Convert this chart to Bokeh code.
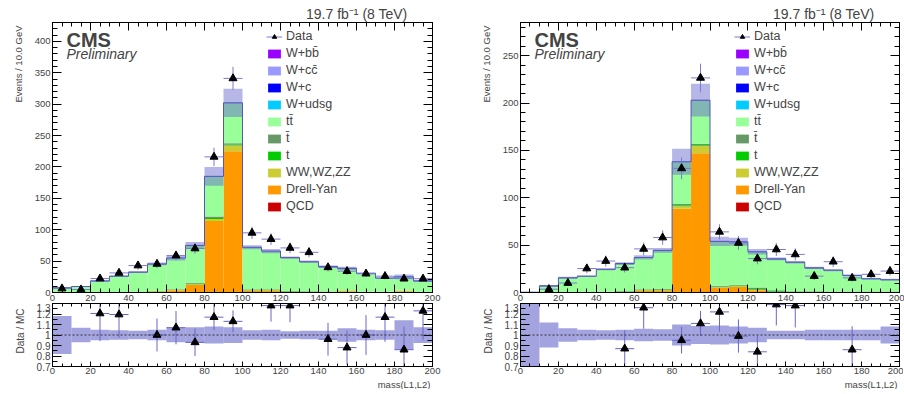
import numpy as np
from bokeh.plotting import figure
from bokeh.models import (ColumnDataSource, Range1d, LinearAxis, SingleIntervalTicker,
                          Label, Legend, LegendItem, Span, CustomJSTickFormatter, Title,
                          CustomLabelingPolicy)
from bokeh.layouts import row, column
from bokeh.embed import file_html
from bokeh.resources import INLINE

FONT = "Liberation Sans"

# ---------------- data ----------------
bin_low = [0, 10, 20, 30, 40, 50, 60, 70, 80, 90, 100, 110, 120, 130, 140, 150, 160, 170, 180, 190]
BIN_W = 10
x_ticks_step = 20

comp_keys = ["qcd", "dy", "vv", "t", "tbar", "ttbar", "wudsg", "wc", "wcc", "wbb"]
comp_labels = {"wbb": "W+bb\u0304", "wcc": "W+cc\u0304", "wc": "W+c", "wudsg": "W+udsg",
               "ttbar": "tt\u0304", "tbar": "t\u0304", "t": "t", "vv": "WW,WZ,ZZ",
               "dy": "Drell-Yan", "qcd": "QCD"}
comp_colors = {"wbb": "#9900ff", "wcc": "#9999ff", "wc": "#0000ff", "wudsg": "#00ccff",
               "ttbar": "#99ff99", "tbar": "#669966", "t": "#00cc00", "vv": "#cccc33",
               "dy": "#ff9900", "qcd": "#cc0000"}
legend_order = ["wbb", "wcc", "wc", "wudsg", "ttbar", "tbar", "t", "vv", "dy", "qcd"]

# left panel
left_data = [6.3, 4.7, 22.2, 31.2, 42.9, 45.5, 58.8, 70, 216, 341, 95, 85, 71, 64, 40, 34, 30, 26, 22, 22]
left_qcd = [0] * 20
left_dy = [0, 0, 0, 0, 0, 1.5, 3.5, 12.5, 114, 225, 3, 3, 1, 0.5, 0.5, 2, 0.3, 0.3, 2, 0.5]
left_vv = [0, 0, 0, 0, 0.3, 0.3, 0.5, 0.5, 3, 9, 0.5, 0.5, 0.3, 0.3, 0.3, 0.3, 0.2, 0.2, 0.2, 0.2]
left_t = [0, 0, 0.2, 0.3, 0.3, 0.5, 0.5, 0.8, 1.5, 1.5, 0.8, 0.8, 0.5, 0.5, 0.4, 0.4, 0.3, 0.3, 0.3, 0.3]
left_tbar = [0, 0, 0.2, 0.3, 0.3, 0.5, 0.8, 1.2, 2.5, 2, 1, 1, 0.7, 0.5, 0.5, 0.5, 0.4, 0.3, 0.3, 0.3]
left_ttbar = [6.9, 8.9, 17.5, 24.8, 31.0, 42.1, 49.1, 59.4, 63.4, 63.9, 66.1, 60.1, 52.4, 46.6, 39.2, 34.7, 28.7, 21.3, 21.6, 16.6]
left_wudsg = [0.2] * 20
left_wc = [0.1] * 20
left_wcc = [0.2] * 20
left_wbb = [0.1] * 20
left_rel = [0.18, 0.07, 0.05, 0.045, 0.04, 0.05, 0.07, 0.075, 0.08, 0.075, 0.045, 0.05, 0.035, 0.04, 0.04, 0.065, 0.05, 0.045, 0.14, 0.075]
left_ratio = [np.nan, np.nan, 1.205, 1.195, np.nan, 1.0, 1.07, 0.93, 1.17, 1.13, np.nan, 1.28, 1.28, np.nan, 0.96, 0.88, 1.0, 1.17, 0.86, 1.23]

# right panel
right_data = [np.nan, 3.5, 10, 25.3, 33.2, 26.2, 46, 58, 131, 226.5, 64, 52.3, 35.8, 45.4, 40.2, 17.3, 32.5, 15.4, 19.2, 22.6]
right_qcd = [0] * 20
right_dy = [0, 0, 0, 0, 0, 0.5, 2, 2, 88.5, 147, 5, 6, 2.5, 0.5, 0.3, 0.3, 0.3, 0.3, 0.3, 0.3]
right_vv = [0, 0, 0, 0.2, 0.2, 0.3, 0.3, 0.4, 2.5, 8, 0.5, 0.5, 0.3, 0.3, 0.2, 0.2, 0.2, 0.2, 0.2, 0.2]
right_t = [0, 0.1, 0.2, 0.2, 0.3, 0.3, 0.5, 0.6, 1, 0.8, 0.7, 0.8, 1, 0.7, 0.4, 0.3, 0.3, 0.3, 0.2, 0.2]
right_tbar = [0, 0.1, 0.2, 0.2, 0.3, 0.4, 0.6, 0.7, 1.5, 1.2, 0.8, 1, 1.5, 0.8, 0.5, 0.4, 0.3, 0.3, 0.3, 0.3]
right_ttbar = [0.3, 6.4, 14.7, 16.2, 23.3, 28.6, 33.2, 40.4, 44.1, 45.6, 46.6, 44.8, 37.3, 32.8, 30.2, 24.4, 22.0, 16.5, 13.1, 12.1]
right_wudsg = [0] + [0.1] * 19
right_wc = [0] + [0.1] * 19
right_wcc = [0] + [0.1] * 19
right_wbb = [0] + [0.1] * 19
right_rel = [1.0, 0.12, 0.065, 0.05, 0.045, 0.05, 0.06, 0.055, 0.10, 0.085, 0.09, 0.08, 0.07, 0.04, 0.04, 0.05, 0.05, 0.05, 0.05, 0.08]
right_ratio = [np.nan, np.nan, np.nan, np.nan, np.nan, 0.87, 1.26, np.nan, 0.95, 1.11, 1.22, 0.99, 0.84, 1.29, 1.28, np.nan, np.nan, 0.86, np.nan, np.nan]

left_comps = dict(qcd=left_qcd, dy=left_dy, vv=left_vv, t=left_t, tbar=left_tbar, ttbar=left_ttbar,
                  wudsg=left_wudsg, wc=left_wc, wcc=left_wcc, wbb=left_wbb)
right_comps = dict(qcd=right_qcd, dy=right_dy, vv=right_vv, t=right_t, tbar=right_tbar, ttbar=right_ttbar,
                   wudsg=right_wudsg, wc=right_wc, wcc=right_wcc, wbb=right_wbb)

X_MAX = 200
FH = 270      # main frame height
RH = 63       # ratio frame height
BAND = "#6666cc"
ERRC = "#7a7ad6"

HIDE_CODE = """
try { indices.clear(); } catch (e) {
  try { for (let i = 0; i < indices.size; i++) { indices.unset(i); } } catch (e2) {}
}
return indices;
"""


def style_axis(ax, tick_in, minor_in, size, labels=True):
    ax.major_tick_in = tick_in
    ax.major_tick_out = 0
    ax.minor_tick_in = minor_in
    ax.minor_tick_out = 0
    ax.axis_line_color = "black"
    ax.major_tick_line_color = "black"
    ax.minor_tick_line_color = "black"
    ax.major_label_text_font = FONT
    if labels:
        ax.major_label_text_font_size = size
        ax.major_label_standoff = 2
    else:
        ax.major_label_text_font_size = "0px"
        ax.major_label_standoff = 0
        ax.major_label_policy = CustomLabelingPolicy(code=HIDE_CODE)


def base_fig(fw, fh, bl, br, bt, bb, yr):
    p = figure(frame_width=fw, frame_height=fh, min_border_left=bl, min_border_right=br,
               min_border_top=bt, min_border_bottom=bb,
               x_range=Range1d(0, X_MAX), y_range=yr,
               output_backend="svg", toolbar_location=None, tools="")
    p.xgrid.visible = False
    p.ygrid.visible = False
    p.outline_line_color = "black"
    p.outline_line_alpha = 1
    p.background_fill_color = "white"
    p.border_fill_color = "white"
    return p


def side_title(p, text, size, standoff, offset):
    t = Title(text=text, align="right", offset=offset, standoff=standoff,
              text_font=FONT, text_font_size=size, text_font_style="normal")
    p.add_layout(t, "left")


def make_main(data, comps, rel, ymax, fw, bl, br):
    lo = np.array(bin_low, dtype=float)
    xc = lo + BIN_W / 2
    p = base_fig(fw, FH, bl, br, 22, 0, Range1d(0, ymax))
    src = ColumnDataSource(dict(x=xc, **{k: np.array(v, dtype=float) for k, v in comps.items()}))
    rs = p.vbar_stack(comp_keys, x="x", width=BIN_W, source=src,
                      fill_color=[comp_colors[k] for k in comp_keys], line_color=None)
    rmap = dict(zip(comp_keys, rs))
    total = np.sum([np.array(comps[k], dtype=float) for k in comp_keys], axis=0)
    relv = np.array(rel)
    p.quad(left=lo, right=lo + BIN_W, bottom=total * (1 - relv), top=total * (1 + relv),
           fill_color=BAND, fill_alpha=0.48, line_color=None)
    p.step(np.append(lo, X_MAX), np.append(total, total[-1]), mode="after",
           line_color="#5555bb", line_width=1)
    d = np.array(data, dtype=float)
    e = np.sqrt(d)
    xr = p.segment(x0=xc - BIN_W / 2, y0=d, x1=xc + BIN_W / 2, y1=d, line_color=ERRC, line_width=1)
    p.segment(x0=xc, y0=d - e, x1=xc, y1=d + e, line_color=ERRC, line_width=1)
    sc = p.scatter(xc, d, marker="triangle", size=8, color="black")

    p.xaxis.ticker = SingleIntervalTicker(interval=x_ticks_step, num_minor_ticks=4)
    p.yaxis.ticker = SingleIntervalTicker(interval=50, num_minor_ticks=5)
    style_axis(p.xaxis[0], 8, 4, "9.5px")
    style_axis(p.yaxis[0], 9, 5, "9.5px")
    top = LinearAxis(ticker=SingleIntervalTicker(interval=x_ticks_step, num_minor_ticks=4))
    style_axis(top, 8, 4, "0px", labels=False)
    p.add_layout(top, "above")
    rt = LinearAxis(ticker=SingleIntervalTicker(interval=50, num_minor_ticks=5))
    style_axis(rt, 9, 5, "0px", labels=False)
    p.add_layout(rt, "right")

    p.title = Title(text="19.7 fb\u207b\u00b9 (8 TeV)", align="right", offset=25, standoff=2,
                    text_font=FONT, text_font_size="14px", text_font_style="normal")

    items = [LegendItem(label="Data", renderers=[xr, sc])]
    for k in legend_order:
        items.append(LegendItem(label=comp_labels[k], renderers=[rmap[k]]))
    n = len(items)
    item_h, spacing = 14, 3
    leg_h = n * item_h + (n - 1) * spacing
    leg = Legend(items=items, location=(214, FH - 7 - leg_h), glyph_width=16, glyph_height=11,
                 label_height=12, spacing=spacing, padding=0, margin=0, label_standoff=4,
                 label_text_font=FONT, label_text_font_size="12.5px",
                 border_line_color=None, background_fill_alpha=0)
    p.add_layout(leg, "center")

    p.add_layout(Label(x=14, y=FH - 17.3, x_units="screen", y_units="screen", text="CMS",
                       text_font=FONT, text_font_size="20px", text_font_style="bold",
                       text_baseline="alphabetic"))
    p.add_layout(Label(x=14, y=FH - 31.5, x_units="screen", y_units="screen", text="Preliminary",
                       text_font=FONT, text_font_size="14px", text_font_style="italic",
                       text_baseline="alphabetic"))
    side_title(p, "Events / 10.0 GeV", "9.5px", 16, 3)
    return p


def make_ratio(ratio, data, rel, fw, bl, br):
    lo = np.array(bin_low, dtype=float)
    xc = lo + BIN_W / 2
    p = base_fig(fw, RH, bl, br, 0, 0, Range1d(0.7, 1.3))
    relv = np.array(rel)
    p.quad(left=lo, right=lo + BIN_W, bottom=1 - relv, top=1 + relv,
           fill_color=BAND, fill_alpha=0.6, line_color=None)
    p.add_layout(Span(location=1, dimension="width", line_color="#333333",
                      line_dash="2 2", line_width=1))
    r = np.array(ratio, dtype=float)
    d = np.array(data, dtype=float)
    err = r * np.sqrt(1.0 / d + relv ** 2)
    p.segment(x0=xc - BIN_W / 2, y0=r, x1=xc + BIN_W / 2, y1=r, line_color="#6666cc", line_width=1)
    p.segment(x0=xc, y0=r - err, x1=xc, y1=r + err, line_color="#6666cc", line_width=1)
    p.scatter(xc, r, marker="triangle", size=8, color="black")

    p.xaxis.ticker = SingleIntervalTicker(interval=x_ticks_step, num_minor_ticks=4)
    p.yaxis.ticker = SingleIntervalTicker(interval=0.1, num_minor_ticks=2)
    p.yaxis.formatter = CustomJSTickFormatter(code="return (Math.round(tick*10)/10).toString();")
    style_axis(p.xaxis[0], 5, 3, "9.5px")
    p.xaxis[0].major_label_standoff = 1
    style_axis(p.yaxis[0], 9, 5, "10px")
    top = LinearAxis(ticker=SingleIntervalTicker(interval=x_ticks_step, num_minor_ticks=4))
    style_axis(top, 5, 3, "0px", labels=False)
    p.add_layout(top, "above")
    rt = LinearAxis(ticker=SingleIntervalTicker(interval=0.1, num_minor_ticks=2))
    style_axis(rt, 9, 5, "0px", labels=False)
    p.add_layout(rt, "right")

    side_title(p, "Data / MC", "10px", 15, 5)
    p.add_layout(Title(text="mass(L1,L2)", align="right", offset=2, standoff=0,
                       text_font=FONT, text_font_size="9.5px", text_font_style="normal"), "below")
    return p


lm = make_main(left_data, left_comps, left_rel, 430, 380, 52, 38)
lr = make_ratio(left_ratio, left_data, left_rel, 380, 52, 38)
rm = make_main(right_data, right_comps, right_rel, 285, 379, 49, 5)
rr = make_ratio(right_ratio, right_data, right_rel, 379, 49, 5)

layout = row(column(lm, lr), column(rm, rr))
open("out.html", "w").write(file_html(layout, INLINE))
